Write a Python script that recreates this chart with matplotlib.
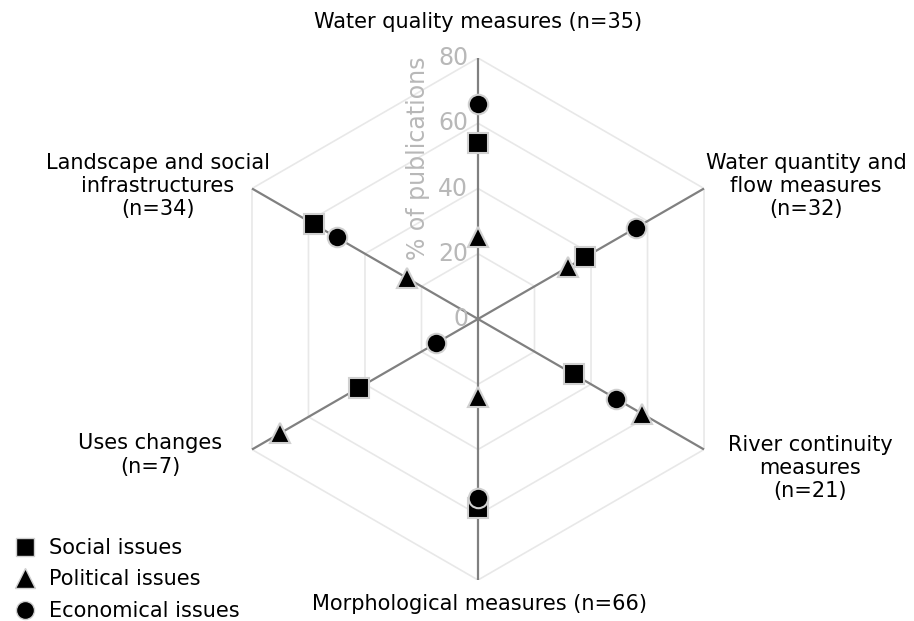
import numpy as np
import matplotlib.pyplot as plt
from matplotlib.lines import Line2D

plt.rcParams['font.family'] = ['DejaVu Sans']

categories = ["Water quality measures (n=35)",
              "Water quantity and\nflow measures\n(n=32)",
              "River continuity\nmeasures\n(n=21)",
              "Morphological measures (n=66)",
              "Uses changes\n(n=7)",
              "Landscape and social\ninfrastructures\n(n=34)"]
social = [54, 38, 34, 58, 42, 58]
political = [25, 32, 58, 24, 70, 25]
economical = [66, 56, 49, 55, 15, 50]
ticks = [0, 20, 40, 60, 80]

W, H = 914, 621
fig = plt.figure(figsize=(W / 100, H / 100), dpi=100)
cx, cy, R = 478, 319, 261
ax = fig.add_axes([(cx - R) / W, (H - cy - R) / H, 2 * R / W, 2 * R / H], projection='polar')
ax.set_theta_zero_location('N')
ax.set_theta_direction(-1)
ax.set_ylim(0, 80)
ax.grid(False)
ax.spines['polar'].set_visible(False)
ax.set_xticks([])
ax.set_yticks([])
ax.patch.set_alpha(0)

theta = np.deg2rad(np.arange(6) * 60)
ring = np.append(theta, theta[0])
for r in ticks[1:]:
    ax.plot(ring, [r] * 7, color='#e8e8e8', lw=1.2, zorder=1)
for t in theta:
    ax.plot([t, t], [0, 80], color='#808080', lw=1.6, zorder=2)

mk = dict(linestyle='none', color='black', markeredgecolor='#d0d0d0', markeredgewidth=1.5, zorder=5, clip_on=False)
ax.plot(theta, social, marker='s', markersize=14, **mk)
ax.plot(theta, political, marker='^', markersize=15, **mk)
ax.plot(theta, economical, marker='o', markersize=14, **mk)

# radial tick labels next to top axis
for r in ticks:
    fig.text((cx - 10) / W, (H - (cy - r * R / 80)) / H, str(r), ha='right', va='center',
             fontsize=17, color='#b8b8b8')
fig.text(418 / W, (H - 158) / H, "% of publications", rotation=90, ha='center', va='center',
         fontsize=17, color='#b8b8b8')

fs = 15
lab_pos = [(478, 22), (806, 186), (810, 468), (480, 604), (150, 455), (158, 186)]
for text, (x, y) in zip(categories, lab_pos):
    fig.text(x / W, (H - y) / H, text, ha='center', va='center', fontsize=fs,
             multialignment='center', linespacing=1.2)

handles = [Line2D([], [], marker='s', markersize=13, color='black', markeredgecolor='#d0d0d0', linestyle='none'),
           Line2D([], [], marker='^', markersize=14, color='black', markeredgecolor='#d0d0d0', linestyle='none'),
           Line2D([], [], marker='o', markersize=13, color='black', markeredgecolor='#d0d0d0', linestyle='none')]
fig.legend(handles, ["Social issues", "Political issues", "Economical issues"],
           loc='lower left', bbox_to_anchor=(0.0, -0.02), frameon=False, fontsize=fs,
           handletextpad=0.55, labelspacing=0.55, borderaxespad=0.2, handlelength=1.2)

fig.savefig('out.png', dpi=100)
